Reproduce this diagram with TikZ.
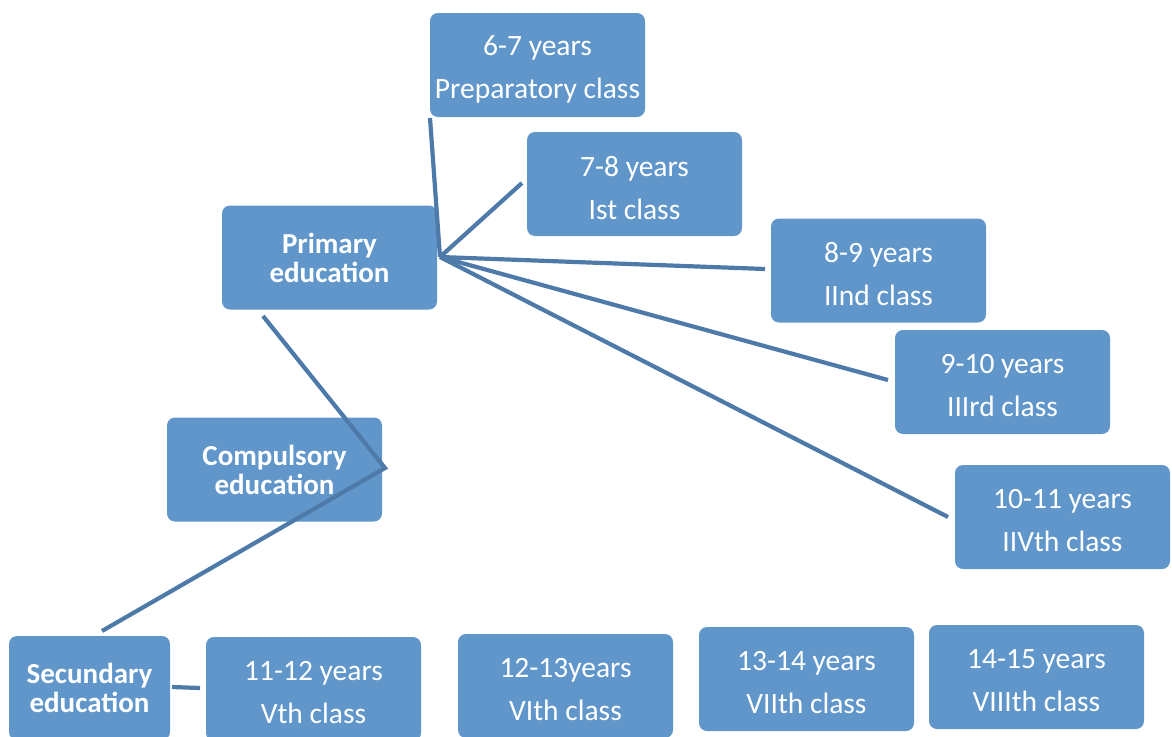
\documentclass[tikz,border=0pt]{standalone}
\usepackage{fontspec}
\setmainfont{Carlito}
\definecolor{boxfill}{RGB}{96,150,201}
\definecolor{linkcol}{RGB}{78,122,170}
\begin{document}
\begin{tikzpicture}[x=1pt,y=-1pt,
  yearbox/.style={fill=boxfill,rounded corners=8pt,minimum width=215pt,minimum height=104pt,
    text=white,align=center,font=\fontsize{29.5}{43}\selectfont,inner sep=0pt},
  yeartext/.style={text=white,align=center,font=\fontsize{29.5}{43}\selectfont,inner sep=0pt,yshift=-4pt},
  levelbox/.style={yearbox,font=\bfseries\fontsize{29}{29}\selectfont},
  link/.style={draw=linkcol,line width=4.2pt}]
\useasboundingbox (0,0) rectangle (1172,736);
\clip (0,0) rectangle (1172,736);
% year boxes
\node[yearbox] (prep) at (537.5,65) {};
\node[yearbox] (c1) at (634.5,184) {};
\node[yearbox] (c2) at (878.5,270.5) {};
\node[yearbox] (c3) at (1002.5,382) {};
\node[yearbox] (c4) at (1062.5,517) {};
\node[yearbox] (c5) at (313.5,689) {};
\node[yearbox] (c6) at (565.5,686) {};
\node[yearbox] (c7) at (806.5,679) {};
\node[yearbox] (c8) at (1036.5,677) {};
\node[yeartext] (prept) at (prep.center) {6-7 years\\Preparatory class};
\node[yeartext] (c1t) at (c1.center) {7-8 years\\Ist class};
\node[yeartext] (c2t) at (c2.center) {8-9 years\\IInd class};
\node[yeartext] (c3t) at (c3.center) {9-10 years\\IIIrd class};
\node[yeartext] (c4t) at (c4.center) {10-11 years\\IIVth class};
\node[yeartext] (c5t) at (c5.center) {11-12 years\\Vth class};
\node[yeartext] (c6t) at (c6.center) {12-13years\\VIth class};
\node[yeartext] (c7t) at (c7.center) {13-14 years\\VIIth class};
\node[yeartext] (c8t) at (c8.center) {14-15 years\\VIIIth class};
% level boxes
\node[levelbox] (prim) at (329.5,257.5) {Primary\\education};
\node[levelbox] (comp) at (274.5,469.5) {Compulsory\\education};
\node[levelbox,minimum width=161pt] (sec) at (89.5,688) {Secundary\\education};
% connector anchor points
\coordinate (hub) at (440,257);
\coordinate (ckink) at (385,468);
\coordinate (pa) at (430,118);
\coordinate (pb) at (522,183);
\coordinate (pc) at (765,269);
\coordinate (pd) at (888,380);
\coordinate (pe) at (948,517);
\coordinate (primbot) at (263,316);
\coordinate (sectop) at (102,631);
\coordinate (secright) at (172,687);
\coordinate (vleft) at (200,688);
% connectors
\draw[link] (hub) -- (pa);
\draw[link] (hub) -- (pb);
\draw[link] (hub) -- (pc);
\draw[link] (hub) -- (pd);
\draw[link] (hub) -- (pe);
\draw[link] (primbot) -- (ckink) -- (sectop);
\draw[link] (secright) -- (vleft);
\end{tikzpicture}
\end{document}
